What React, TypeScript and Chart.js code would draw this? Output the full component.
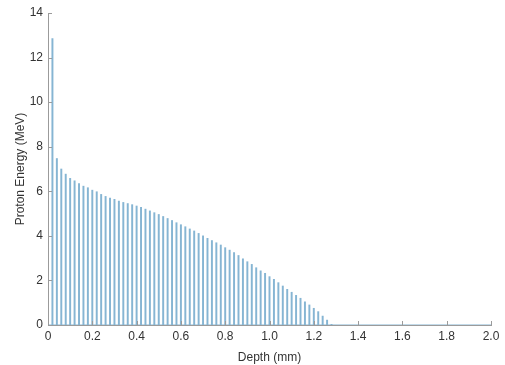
import React, { useEffect, useRef } from "react";
import { Chart, registerables } from "chart.js";

Chart.register(...registerables);

const depths: number[] = [
  0.02, 0.04, 0.06, 0.08, 0.1, 0.12, 0.14, 0.16, 0.18, 0.2,
  0.22, 0.24, 0.26, 0.28, 0.3, 0.32, 0.34, 0.36, 0.38, 0.4,
  0.42, 0.44, 0.46, 0.48, 0.5, 0.52, 0.54, 0.56, 0.58, 0.6,
  0.62, 0.64, 0.66, 0.68, 0.7, 0.72, 0.74, 0.76, 0.78, 0.8,
  0.82, 0.84, 0.86, 0.88, 0.9, 0.92, 0.94, 0.96, 0.98, 1.0,
  1.02, 1.04, 1.06, 1.08, 1.1, 1.12, 1.14, 1.16, 1.18, 1.2,
  1.22, 1.24, 1.26, 1.28,
];

const energies: number[] = [
  12.85, 7.47, 7.0, 6.77, 6.58, 6.47, 6.35, 6.23, 6.16, 6.05,
  5.98, 5.86, 5.77, 5.7, 5.64, 5.56, 5.5, 5.45, 5.4, 5.34,
  5.28, 5.2, 5.12, 5.04, 4.96, 4.87, 4.78, 4.69, 4.59, 4.5,
  4.41, 4.31, 4.22, 4.11, 4.0, 3.89, 3.79, 3.69, 3.59, 3.47,
  3.36, 3.25, 3.12, 2.97, 2.84, 2.72, 2.57, 2.43, 2.32, 2.17,
  2.05, 1.9, 1.75, 1.6, 1.47, 1.33, 1.2, 1.04, 0.9, 0.75,
  0.6, 0.4, 0.22, 0.03,
];

const baselineX: number[] = [0, 2];
const xTicks: number[] = [0, 0.2, 0.4, 0.6, 0.8, 1.0, 1.2, 1.4, 1.6, 1.8, 2.0];
const yTicks: number[] = [0, 2, 4, 6, 8, 10, 12, 14];

const STEM = "#86b5d3";
const AXIS = "#9b9b9b";
const TEXT = "#333333";
const FONT = "'Liberation Sans', Arial, sans-serif";

const inwardTicks = {
  id: "inwardTicks",
  afterDraw(chart: any) {
    const { ctx, scales, chartArea } = chart;
    const xs = scales.x;
    const ys = scales.y;
    ctx.save();
    ctx.strokeStyle = AXIS;
    ctx.lineWidth = 1;
    ctx.beginPath();
    xTicks.forEach((v) => {
      const px = Math.round(xs.getPixelForValue(v)) + 0.5;
      ctx.moveTo(px, chartArea.bottom);
      ctx.lineTo(px, chartArea.bottom - 4);
    });
    yTicks.forEach((v) => {
      const py = Math.round(ys.getPixelForValue(v)) + 0.5;
      ctx.moveTo(chartArea.left, py);
      ctx.lineTo(chartArea.left + 4, py);
    });
    ctx.stroke();
    ctx.restore();
  },
};

export default function App() {
  const ref = useRef<HTMLCanvasElement | null>(null);
  useEffect(() => {
    if (!ref.current) return;
    const chart = new Chart(ref.current, {
      type: "bar",
      data: {
        datasets: [
          {
            type: "line",
            data: baselineX.map((x) => ({ x, y: 0 })),
            borderColor: STEM,
            borderWidth: 1.2,
            pointRadius: 0,
            order: 0,
          } as any,
          {
            type: "bar",
            data: depths.map((d, i) => ({ x: d, y: energies[i] })),
            backgroundColor: STEM,
            borderWidth: 0,
            barThickness: 1.3,
            order: 1,
          } as any,
        ],
      },
      options: {
        animation: false,
        responsive: false,
        maintainAspectRatio: false,
        layout: { padding: { left: 0, right: 14, top: 13, bottom: 0 } },
        plugins: {
          legend: { display: false },
          tooltip: { enabled: false },
        },
        scales: {
          x: {
            type: "linear",
            min: 0,
            max: 2,
            offset: false,
            afterBuildTicks: (s: any) => {
              s.ticks = xTicks.map((v) => ({ value: v }));
            },
            afterFit: (s: any) => {
              s.height = 40;
            },
            grid: { display: false, drawTicks: false, offset: false },
            border: { display: true, color: AXIS, width: 1 },
            ticks: {
              padding: 4,
              color: TEXT,
              font: { family: FONT, size: 12 },
              maxRotation: 0,
              autoSkip: false,
              callback: (v: any) => Number(v) === 0 ? "0" : Number(v).toFixed(1),
            },
            title: {
              display: true,
              text: "Depth (mm)",
              color: TEXT,
              font: { family: FONT, size: 12 },
              padding: { top: 0, bottom: 0 },
            },
          },
          y: {
            type: "linear",
            min: 0,
            max: 14,
            afterBuildTicks: (s: any) => {
              s.ticks = yTicks.map((v) => ({ value: v }));
            },
            afterFit: (s: any) => {
              s.width = 48;
            },
            grid: { display: false, drawTicks: false },
            border: { display: true, color: AXIS, width: 1 },
            ticks: {
              padding: 5,
              color: TEXT,
              font: { family: FONT, size: 12 },
              autoSkip: false,
              callback: (v: any) => String(v),
            },
            title: {
              display: true,
              text: "Proton Energy (MeV)",
              color: TEXT,
              font: { family: FONT, size: 12 },
              padding: { top: 13, bottom: 0 },
            },
          },
        },
      },
      plugins: [inwardTicks],
    });
    return () => chart.destroy();
  }, []);
  return (
    <div style={{ position: "fixed", left: 0, top: 0, width: 505, height: 365, background: "#fff" }}>
      <canvas ref={ref} width={505} height={365} />
    </div>
  );
}
